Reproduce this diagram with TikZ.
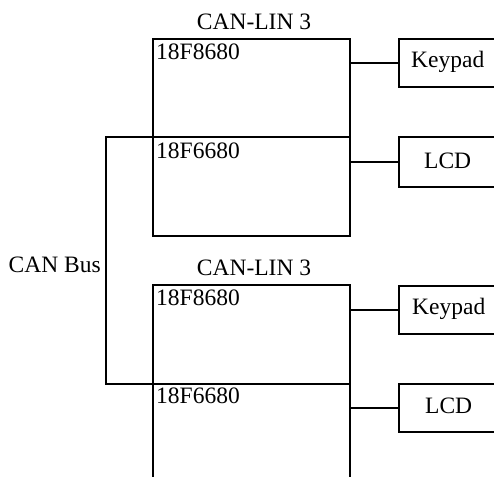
\documentclass[tikz,border=0pt]{standalone}
\usepackage{fontspec}
\setmainfont{Liberation Serif}
\begin{document}
\begin{tikzpicture}[x=1pt,y=-1pt,
  box/.style={draw,line width=1.4pt,minimum width=#1,inner sep=0,outer sep=0,anchor=north west},
  txt/.style={inner sep=0,anchor=base west,font=\fontsize{23.5}{27}\selectfont},
  ctxt/.style={inner sep=0,anchor=base,font=\fontsize{23.5}{27}\selectfont},
  wire/.style={line width=1.4pt}]
\useasboundingbox (0,0) rectangle (494,476);
\clip (0,0) rectangle (494,476);
% upper unit
\node[box=197pt,minimum height=98pt] (a1) at (153,39) {};
\node[box=197pt,minimum height=99pt] (b1) at (153,137) {};
\node[box=130pt,minimum height=48pt] (k1) at (399,39) {};
\node[box=130pt,minimum height=50pt] (l1) at (399,137) {};
\node[ctxt] (t1) at (254,30) {CAN-LIN 3};
\node[txt] (s1) at (156,60) {18F8680};
\node[txt] (r1) at (156,158) {18F6680};
\node[txt] (kt1) at (411,68) {Keypad};
\node[txt] (lt1) at (424,168) {LCD};
% lower unit
\node[box=197pt,minimum height=99pt] (a2) at (153,285) {};
\node[box=197pt,minimum height=120pt] (b2) at (153,384) {};
\node[box=130pt,minimum height=48pt] (k2) at (399,286) {};
\node[box=130pt,minimum height=48pt] (l2) at (399,384) {};
\node[ctxt] (t2) at (254,275) {CAN-LIN 3};
\node[txt] (s2) at (156,305) {18F8680};
\node[txt] (r2) at (156,403) {18F6680};
\node[txt] (kt2) at (412,314) {Keypad};
\node[txt] (lt2) at (425,413) {LCD};
% connectors
\draw[wire] (k1.west) -- (k1.west -| a1.east);
\draw[wire] (l1.west) -- (l1.west -| b1.east);
\draw[wire] (k2.west) -- (k2.west -| a2.east);
\draw[wire] (l2.west) -- (l2.west -| b2.east);
% bus
\coordinate (bt) at (106,137);
\coordinate (bb) at (106,384);
\draw[wire] (b1.north west) -- (bt) -- (bb) -- (b2.north west);
\node[inner sep=0,anchor=base east,font=\fontsize{23.5}{27}\selectfont] (bus) at (101,272) {CAN Bus};
\end{tikzpicture}
\end{document}
